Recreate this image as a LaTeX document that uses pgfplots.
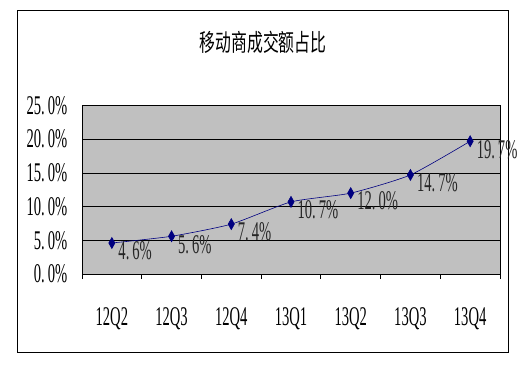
\documentclass[border=0pt]{standalone}
\usepackage{pgfplots}
\pgfplotsset{compat=1.18}
\usepackage{fontspec}
\setmainfont{Liberation Serif}[FakeStretch=0.54]
\newfontfamily\cjk{Noto Sans CJK SC}[FakeStretch=0.66]
\definecolor{navy}{RGB}{0,0,128}
\definecolor{plotgray}{RGB}{192,192,192}
\newcommand{\g}{\hspace{3bp}}
\begin{document}
\begin{tikzpicture}[x=1bp,y=1bp]
\fill[white] (0,0) rectangle (527,369);
\draw[black, line width=1bp] (17,17) rectangle (508,358);
\node[font=\cjk\fontsize{24bp}{26bp}\selectfont] at (263,327) {移动商成交额占比};
\begin{axis}[
  at={(82bp,95bp)}, anchor=south west,
  scale only axis, width=418bp, height=168.5bp,
  xmin=-0.5, xmax=6.5, ymin=0, ymax=25,
  axis background/.style={fill=plotgray},
  axis line style={black, line width=0.8bp},
  xtick={0,...,6},
  xticklabels={12Q2,12Q3,12Q4,13Q1,13Q2,13Q3,13Q4},
  major x tick style={draw=none},
  minor xtick={-0.5,0.5,...,6.5},
  minor tick length=5bp,
  minor x tick style={black, line width=0.8bp},
  tick align=outside,
  xtick pos=bottom, ytick pos=left,
  ytick={0,5,...,25},
  yticklabels={0.\g0\%,5.\g0\%,10.\g0\%,15.\g0\%,20.\g0\%,25.\g0\%},
  major y tick style={draw=none},
  ymajorgrids, grid style={black, line width=0.8bp},
  clip=false,
  ticklabel style={font=\fontsize{27bp}{29bp}\selectfont, text=black},
  xticklabel style={yshift=-26bp},
  yticklabel style={xshift=-7bp},
  nodes near coords,
  point meta=explicit symbolic,
  nodes near coords style={anchor=west, xshift=3bp, yshift=-8bp, text=black!85, font=\fontsize{27bp}{29bp}\selectfont},
]
\addplot[navy, line width=0.6bp, smooth, tension=0.35, mark=diamond*, mark size=5.5bp, mark options={xscale=0.75, fill=navy, draw=navy}]
coordinates {
  (0,4.6)  [4.\g6\%]
  (1,5.6)  [5.\g6\%]
  (2,7.4)  [7.\g4\%]
  (3,10.7) [10.\g7\%]
  (4,12.0) [12.\g0\%]
  (5,14.7) [14.\g7\%]
  (6,19.7) [19.\g7\%]
};
\end{axis}
\end{tikzpicture}
\end{document}
